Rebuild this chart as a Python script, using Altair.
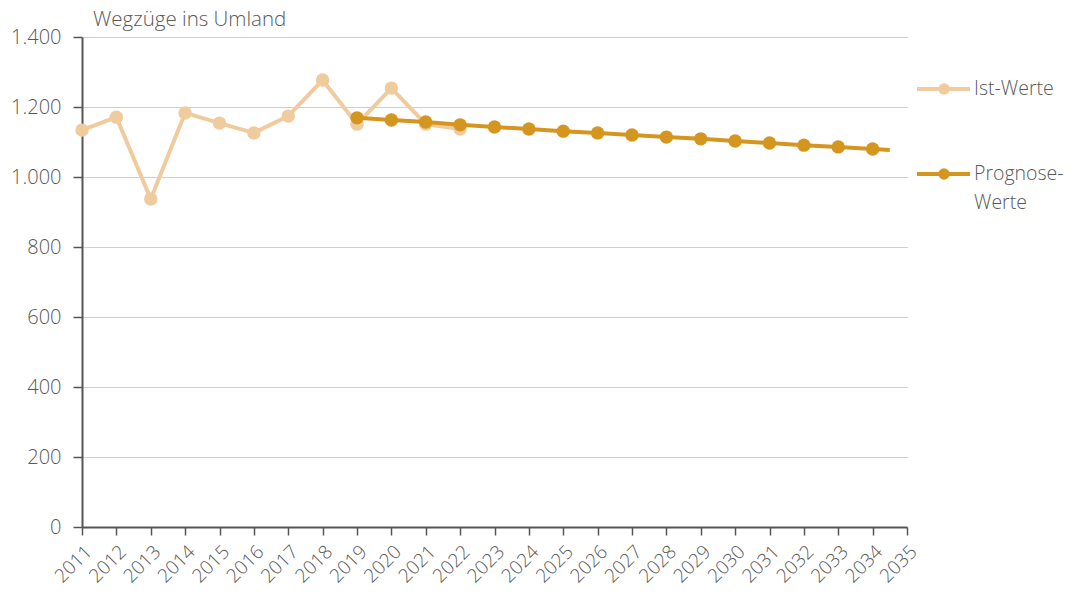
import altair as alt
import pandas as pd

ist_years = [2011, 2012, 2013, 2014, 2015, 2016, 2017, 2018, 2019, 2020, 2021, 2022]
ist_values = [1134, 1171, 937, 1183, 1154, 1126, 1174, 1277, 1151, 1254, 1151, 1137]

prog_years = [2019, 2020, 2021, 2022, 2023, 2024, 2025, 2026, 2027, 2028, 2029,
              2030, 2031, 2032, 2033, 2034]
prog_values = [1169, 1163, 1157, 1149, 1143, 1137, 1131, 1126, 1120, 1114, 1109,
               1103, 1097, 1091, 1086, 1080]
# the forecast line runs on a little past the last marker
prog_line_end_year = 2034.5
prog_line_end_value = 1077

tick_years = list(range(2011, 2036))
y_ticks = [0, 200, 400, 600, 800, 1000, 1200, 1400]

IST_COLOR = "#EFCB9D"
PROG_COLOR = "#D59620"
TEXT_COLOR = "#595959"
FONT = "Open Sans"
FW = 300

ist_df = pd.DataFrame({"year": ist_years, "value": ist_values})
prog_pts = pd.DataFrame({"year": prog_years, "value": prog_values})
prog_line = pd.DataFrame({"year": prog_years + [prog_line_end_year],
                          "value": prog_values + [prog_line_end_value]})

x_enc = alt.X("year:Q",
              scale=alt.Scale(domain=[2011, 2035], nice=False, zero=False),
              axis=alt.Axis(values=tick_years, tickCount=40,
                            format="d", labelAngle=-45,
                            title=None, grid=False, tickSize=8,
                            labelPadding=7, labelFontSize=19, labelFontWeight=FW,
                            labelColor=TEXT_COLOR, labelFont=FONT,
                            domainColor="#555555", domainWidth=2,
                            tickColor="#555555", tickWidth=1.5,
                            labelFlush=False, labelOverlap=False,
                            labelSeparation=0, labelBound=False))
y_enc = alt.Y("value:Q",
              scale=alt.Scale(domain=[0, 1400], nice=False),
              axis=alt.Axis(values=y_ticks, title=None, tickSize=9,
                            labelPadding=12, labelFontSize=20, labelFontWeight=FW,
                            labelColor=TEXT_COLOR, labelFont=FONT,
                            labelExpr="replace(format(datum.value, ','), ',', '.')",
                            domainColor="#555555", domainWidth=2,
                            tickColor="#555555", tickWidth=1.5,
                            grid=True, gridColor="#a0a0a0", gridDash=[1, 1],
                            gridWidth=1))

ist_line = alt.Chart(ist_df).mark_line(color=IST_COLOR, strokeWidth=4).encode(x=x_enc, y=y_enc)
ist_points = alt.Chart(ist_df).mark_point(color=IST_COLOR, filled=True, opacity=1, size=180).encode(x=x_enc, y=y_enc)
p_line = alt.Chart(prog_line).mark_line(color=PROG_COLOR, strokeWidth=4).encode(x=x_enc, y=y_enc)
p_points = alt.Chart(prog_pts).mark_point(color=PROG_COLOR, filled=True, opacity=1, size=180).encode(x=x_enc, y=y_enc)

# manual legend
legend_df = pd.DataFrame({"k": [0]})
base = alt.Chart(legend_df)
leg = []
for color, ly in [(IST_COLOR, 52), (PROG_COLOR, 137)]:
    leg.append(base.mark_rule(color=color, strokeWidth=4).encode(
        x=alt.value(835), x2=alt.value(888), y=alt.value(ly)))
    leg.append(base.mark_point(color=color, filled=True, opacity=1, size=130).encode(
        x=alt.value(862), y=alt.value(ly)))
txt = dict(align="left", baseline="middle", fontSize=19.5, font=FONT,
           fontWeight=FW, color=TEXT_COLOR)
leg.append(base.mark_text(text="Ist-Werte", **txt).encode(x=alt.value(892), y=alt.value(52)))
leg.append(base.mark_text(text="Prognose-", **txt).encode(x=alt.value(892), y=alt.value(137)))
leg.append(base.mark_text(text="Werte", **txt).encode(x=alt.value(892), y=alt.value(166)))
title = base.mark_text(text="Wegzüge ins Umland", **dict(txt, fontSize=20.5)).encode(
    x=alt.value(11), y=alt.value(-17))

chart = alt.layer(ist_line, ist_points, p_line, p_points, *leg, title).properties(
    width=825, height=490,
    autosize=alt.AutoSizeParams(type="none"),
    padding={"left": 74, "top": 29, "right": 157, "bottom": 60},
    background="white",
).configure_view(stroke=None)

chart.save("out.html", embed_options={"renderer": "svg", "actions": False})
